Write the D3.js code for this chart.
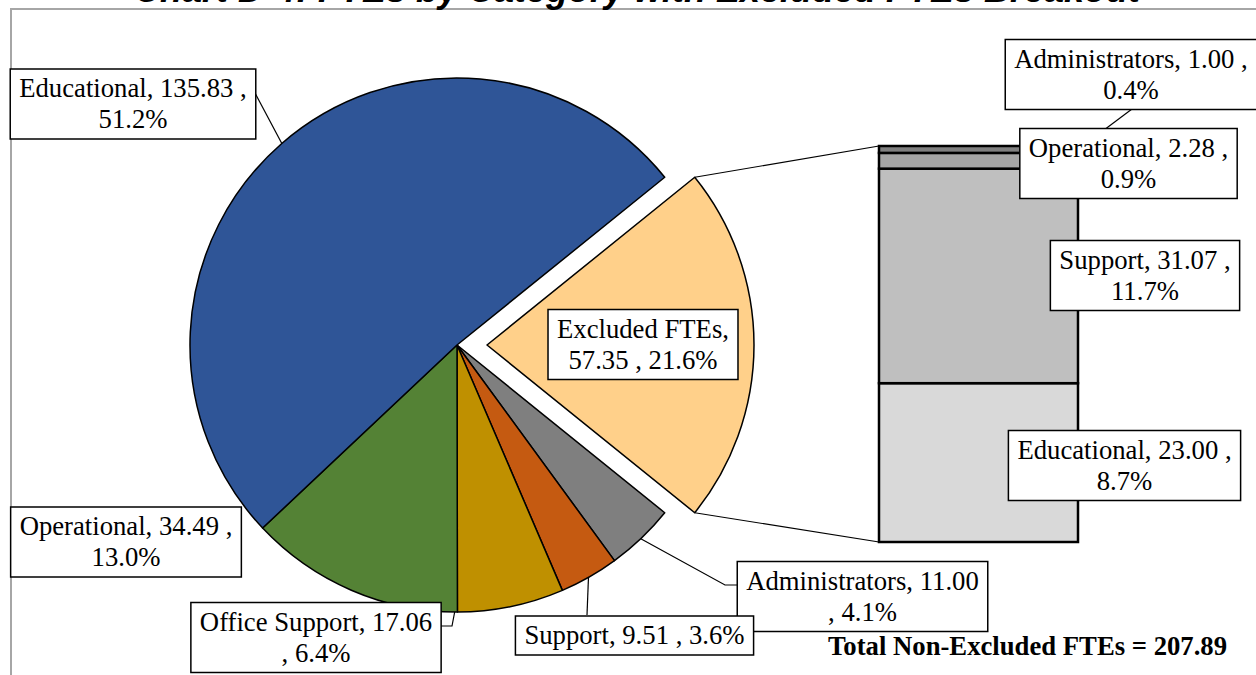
<!DOCTYPE html>
<html>
<head>
<meta charset="utf-8">
<script src="https://cdn.jsdelivr.net/npm/d3@7"></script>
<style>
  html, body { margin: 0; padding: 0; background: #fff; }
  svg { display: block; }
</style>
</head>
<body>
<svg id="chart" width="1256" height="675"></svg>
<script>
// ---- data ----
const chartTitle = "Chart D-4: FTEs by Category with Excluded FTEs Breakout";
const excludedName = "Excluded FTEs";
const pieCategories = ["Administrators", "Support", "Office Support", "Operational", "Educational"];
const pieValues = [11.00, 9.51, 17.06, 34.49, 135.83];
// breakout of the excluded slice, stacked bottom to top
const barCategories = ["Educational", "Support", "Operational", "Administrators"];
const barValues = [23.00, 31.07, 2.28, 1.00];
const totalLabel = "Total Non-Excluded FTEs";

// ---- styles ----
const pieColors = {
  "Excluded FTEs": "#FFD08A",
  "Administrators": "#7F7F7F",
  "Support": "#C55A11",
  "Office Support": "#BF9000",
  "Operational": "#548235",
  "Educational": "#2F5597"
};
const barColors = {
  "Educational": "#D9D9D9",
  "Support": "#BFBFBF",
  "Operational": "#A6A6A6",
  "Administrators": "#808080"
};
const FONT = "'Liberation Serif', 'Times New Roman', serif";
const FS = 26.7, LH = 31;

// ---- layout ----
const cx = 457, cy = 345, R = 267, explode = 30;
const barX0 = 879, barX1 = 1078, barTop = 146, barBottom = 542;

const svg = d3.select("#chart");

// chart frame
svg.append("path")
  .attr("d", "M11,680 L11,9 L1260,9")
  .attr("fill", "none").attr("stroke", "#A6A6A6").attr("stroke-width", 2);

// title (runs off the top edge)
svg.append("text")
  .attr("x", 637).attr("y", 2)
  .attr("text-anchor", "middle")
  .attr("font-family", "'Liberation Sans', Arial, sans-serif")
  .attr("font-weight", "bold").attr("font-style", "italic")
  .attr("font-size", 36)
  .text(chartTitle);

// ---- pie ----
const excludedTotal = d3.sum(barValues);
const pieData = [{ name: excludedName, value: excludedTotal }]
  .concat(pieCategories.map((c, i) => ({ name: c, value: pieValues[i] })));
const grandTotal = d3.sum(pieData, d => d.value);
const exSpan = 2 * Math.PI * excludedTotal / grandTotal;
const start = Math.PI / 2 - exSpan / 2;

const pie = d3.pie().sort(null).value(d => d.value)
  .startAngle(start).endAngle(start + 2 * Math.PI);
const arcs = pie(pieData);
const arc = d3.arc().innerRadius(0).outerRadius(R);

const offsetOf = d => {
  if (d.data.name !== excludedName) return [0, 0];
  const m = (d.startAngle + d.endAngle) / 2;
  return [explode * Math.sin(m), -explode * Math.cos(m)];
};

const pieG = svg.append("g").attr("transform", `translate(${cx},${cy})`);
pieG.selectAll("path.slice").data(arcs).join("path")
  .attr("class", "slice")
  .attr("transform", d => { const o = offsetOf(d); return `translate(${o[0]},${o[1]})`; })
  .attr("d", arc)
  .attr("fill", d => pieColors[d.data.name])
  .attr("stroke", "#000").attr("stroke-width", 1.5).attr("stroke-linejoin", "round");

// point on the pie rim at a given angle (degrees, clockwise from 12 o'clock)
const rim = deg => {
  const a = deg * Math.PI / 180;
  return [cx + R * Math.sin(a), cy - R * Math.cos(a)];
};

// ---- breakout bar ----
const y = d3.scaleLinear().domain([0, excludedTotal]).range([barBottom, barTop]);
const stacked = [];
let acc = 0;
barCategories.forEach((c, i) => {
  stacked.push({ name: c, value: barValues[i], y0: acc, y1: acc + barValues[i] });
  acc += barValues[i];
});

// connector lines from the exploded slice corners to the bar
const ex = arcs[0];
const exOff = offsetOf(ex);
const corner = a => [cx + exOff[0] + R * Math.sin(a), cy + exOff[1] - R * Math.cos(a)];
const cTop = corner(ex.startAngle), cBot = corner(ex.endAngle);
svg.append("line")
  .attr("x1", cTop[0]).attr("y1", cTop[1]).attr("x2", barX0).attr("y2", y(excludedTotal))
  .attr("stroke", "#000").attr("stroke-width", 1.2);
svg.append("line")
  .attr("x1", cBot[0]).attr("y1", cBot[1]).attr("x2", barX0).attr("y2", y(0))
  .attr("stroke", "#000").attr("stroke-width", 1.2);

svg.append("g").selectAll("rect").data(stacked).join("rect")
  .attr("x", barX0).attr("width", barX1 - barX0)
  .attr("y", d => y(d.y1)).attr("height", d => y(d.y0) - y(d.y1))
  .attr("fill", d => barColors[d.name])
  .attr("stroke", "#000").attr("stroke-width", 2.5);

// ---- labels ----
const fmtPct = v => (100 * v / grandTotal).toFixed(1) + "%";
const labelText = (name, v) => `${name}, ${v.toFixed(2)} , ${fmtPct(v)}`;

const layer = svg.append("g");

function wrapLines(text, maxW) {
  const probe = layer.append("text").attr("font-family", FONT).attr("font-size", FS);
  const words = text.split(" ");
  const lines = [];
  let cur = "";
  words.forEach(w => {
    const trial = cur ? cur + " " + w : w;
    probe.text(trial);
    if (cur && probe.node().getComputedTextLength() > maxW) {
      lines.push(cur);
      cur = w;
    } else cur = trial;
  });
  if (cur) lines.push(cur);
  const widths = lines.map(l => { probe.text(l); return probe.node().getComputedTextLength(); });
  probe.remove();
  return { lines, width: d3.max(widths) };
}

function leader(points) {
  layer.append("path")
    .attr("d", d3.line()(points))
    .attr("fill", "none").attr("stroke", "#000").attr("stroke-width", 1.2);
}

function labelBox(text, centerX, centerY, maxW) {
  const { lines, width } = wrapLines(text, maxW);
  const w = width + 18, h = lines.length * LH + 8;
  const x0 = centerX - w / 2, y0 = centerY - h / 2;
  const g = layer.append("g");
  g.append("rect").attr("x", x0).attr("y", y0).attr("width", w).attr("height", h)
    .attr("fill", "#fff").attr("stroke", "#000").attr("stroke-width", 1.5);
  lines.forEach((l, i) => {
    g.append("text")
      .attr("x", centerX).attr("y", y0 + 28 + i * LH)
      .attr("text-anchor", "middle")
      .attr("font-family", FONT).attr("font-size", FS).attr("fill", "#000")
      .text(l);
  });
}

const pv = name => pieData.find(d => d.name === name).value;
const bv = name => barValues[barCategories.indexOf(name)];

// leader lines for the pie slices
leader([[255, 93], rim(319)]);
leader([[441, 626], [452, 626], rim(180.5)]);
leader([[587, 615], rim(150.5)]);
leader([[737, 585], [725, 585], rim(136.5)]);
// leader for the thin top segment of the bar
leader([[1132, 109], [barX1, y(excludedTotal - bv("Administrators") / 2)]]);

// pie labels
labelBox(labelText("Educational", pv("Educational")), 133, 104, 238);
labelBox(labelText("Operational", pv("Operational")), 126, 542, 220);
labelBox(labelText("Office Support", pv("Office Support")), 316, 637.5, 238);
labelBox(labelText("Administrators", pv("Administrators")), 862.5, 596.5, 240);
labelBox(labelText("Support", pv("Support")), 634.5, 635.5, 320);
labelBox(labelText(excludedName, excludedTotal), 643, 344.5, 185);

// bar labels
labelBox(labelText("Administrators", bv("Administrators")), 1131, 74.5, 240);
labelBox(labelText("Operational", bv("Operational")), 1128.5, 163.5, 210);
labelBox(labelText("Support", bv("Support")), 1145, 275.5, 176);
labelBox(labelText("Educational", bv("Educational")), 1124.5, 465.5, 222);

// total of the non-excluded categories
svg.append("text")
  .attr("x", 828).attr("y", 655)
  .attr("font-family", FONT).attr("font-size", FS).attr("font-weight", "bold")
  .text(`${totalLabel} = ${d3.sum(pieValues).toFixed(2)}`);
</script>
</body>
</html>
